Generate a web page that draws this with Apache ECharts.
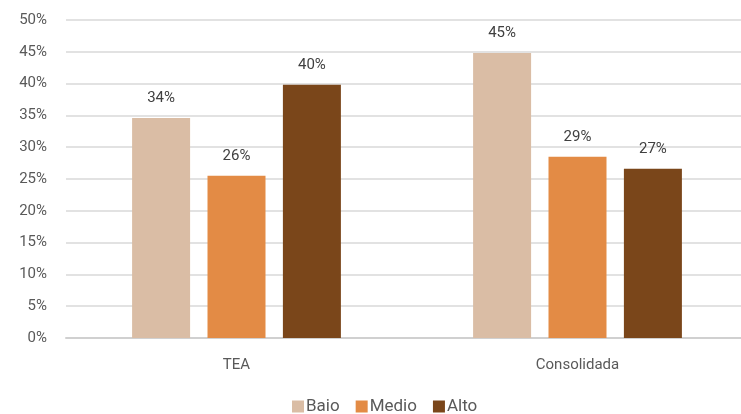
<!DOCTYPE html>
<html><head><meta charset="utf-8">
<script src="https://cdn.jsdelivr.net/npm/echarts@6/dist/echarts.min.js"></script>
<style>html,body{margin:0;padding:0;background:#fff;overflow:hidden}#c{width:748px;height:414px}</style>
</head><body><div id="c"></div>
<script>
const categories = ['TEA', 'Consolidada'];
const seriesNames = ['Baio', 'Medio', 'Alto'];
const baio = [34.6, 44.8];
const medio = [25.5, 28.5];
const alto = [39.8, 26.6];
const labelsBaio = ['34%', '45%'];
const labelsMedio = ['26%', '29%'];
const labelsAlto = ['40%', '27%'];
const colors = ['#DABDA5', '#E38B45', '#7A461A'];

const font = 'Roboto';
function mk(name, data, labels, color) {
  return {
    name: name, type: 'bar', data: data, barWidth: 58, barGap: '30%',
    itemStyle: { color: color },
    label: {
      show: true, position: 'top', distance: 12,
      color: '#404040', fontSize: 15, fontFamily: font,
      formatter: p => labels[p.dataIndex]
    }
  };
}
const chart = echarts.init(document.getElementById('c'));
chart.setOption({
  animation: false,
  textStyle: { fontFamily: font },
  grid: { left: 66, right: 0, top: 20, bottom: 76 },
  legend: {
    bottom: -6, left: 287, itemWidth: 12, itemHeight: 12, itemGap: 16,
    icon: 'rect',
    textStyle: { color: '#595959', fontSize: 17, fontFamily: font, padding: [0, 0, 0, -3] },
    data: seriesNames
  },
  xAxis: {
    type: 'category', data: categories,
    axisLine: { lineStyle: { color: '#d0d0d0', width: 2 } },
    axisTick: { show: false },
    axisLabel: { color: '#595959', fontSize: 15, fontFamily: font, margin: 20 }
  },
  yAxis: {
    type: 'value', min: 0, max: 50, interval: 5,
    axisLine: { show: false }, axisTick: { show: false },
    splitLine: { lineStyle: { color: '#d9d9d9', width: 1.5 } },
    axisLabel: { color: '#595959', fontSize: 15, fontFamily: font, margin: 19, formatter: '{value}%' }
  },
  series: [
    mk(seriesNames[0], baio, labelsBaio, colors[0]),
    mk(seriesNames[1], medio, labelsMedio, colors[1]),
    mk(seriesNames[2], alto, labelsAlto, colors[2])
  ]
});
</script></body></html>
